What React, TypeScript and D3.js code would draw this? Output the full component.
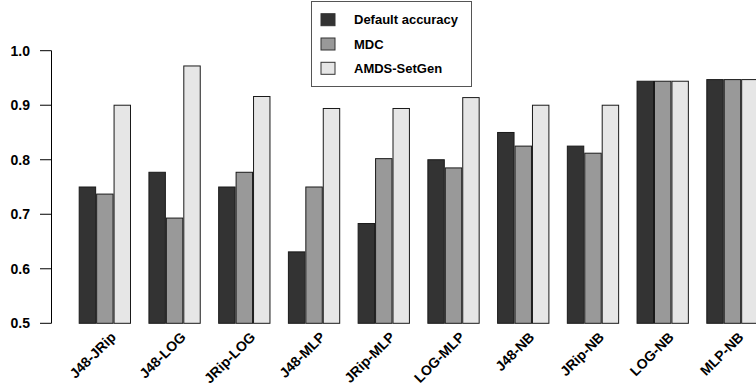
import React from 'react';
import * as d3 from 'd3';

const pairs = ['J48-JRip', 'J48-LOG', 'JRip-LOG', 'J48-MLP', 'JRip-MLP', 'LOG-MLP', 'J48-NB', 'JRip-NB', 'LOG-NB', 'MLP-NB'];
const seriesNames = ['Default accuracy', 'MDC', 'AMDS-SetGen'];
const defaultAcc = [0.75, 0.777, 0.75, 0.631, 0.683, 0.8, 0.85, 0.825, 0.944, 0.947];
const mdc = [0.737, 0.693, 0.777, 0.75, 0.802, 0.785, 0.825, 0.812, 0.944, 0.947];
const amds = [0.9, 0.972, 0.916, 0.894, 0.894, 0.914, 0.9, 0.9, 0.944, 0.947];
const yTicks = [0.5, 0.6, 0.7, 0.8, 0.9, 1.0];
const fills = ['#333333', '#999999', '#e6e6e6'];

const W = 756, H = 389;

export default function App() {
  const values = [defaultAcc, mdc, amds];

  const x0 = d3.scaleBand<string>()
    .domain(pairs)
    .range([78.7, 758.6])
    .paddingInner(0.25)
    .paddingOuter(0);

  const x1 = d3.scaleBand<number>()
    .domain([0, 1, 2])
    .range([0, x0.bandwidth()]);

  const y = d3.scaleLinear().domain([0.5, 1.0]).range([323.3, 50.7]);

  const font = '"Liberation Sans", Arial, sans-serif';

  return (
    <div style={{ position: 'absolute', left: 0, top: 0 }}>
      <svg width={W} height={H} style={{ display: 'block' }}>
        <rect width={W} height={H} fill="#fff" />

        {/* bars */}
        {pairs.map((p, i) => (
          <g key={p} transform={'translate(' + x0(p) + ',0)'}>
            {values.map((s, j) => (
              <rect
                key={j}
                x={(x1(j) as number) + 0.5}
                y={y(s[i])}
                width={x1.bandwidth() - 1}
                height={y(0.5) - y(s[i])}
                fill={fills[j]}
                stroke="#1a1a1a"
                strokeWidth={1}
              />
            ))}
          </g>
        ))}

        {/* y axis */}
        <g fontFamily={font} fontSize={14} fontWeight="bold">
          <line x1={51.5} x2={51.5} y1={y(1.0)} y2={y(0.5)} stroke="#000" />
          {yTicks.map(t => (
            <g key={t}>
              <line x1={40} x2={51.5} y1={y(t)} y2={y(t)} stroke="#000" />
              <text x={30} y={y(t)} dy="0.35em" textAnchor="end">{t.toFixed(1)}</text>
            </g>
          ))}
        </g>

        {/* x labels */}
        <g fontFamily={font} fontSize={14} fontWeight="bold">
          {pairs.map(p => {
            const cx = (x0(p) as number) + x0.bandwidth() / 2 + 12;
            return (
              <text key={p} transform={'translate(' + cx + ',338) rotate(-45)'} textAnchor="end">{p}</text>
            );
          })}
        </g>

        {/* legend */}
        <g fontFamily={font} fontSize={13} fontWeight="bold">
          <rect x={311.5} y={1.5} width={160} height={85} fill="#fff" stroke="#555" />
          {seriesNames.map((n, j) => (
            <g key={n} transform={'translate(0,' + (19.7 + j * 24.3) + ')'}>
              <rect x={321} y={-6} width={14} height={12} fill={fills[j]} stroke="#333" />
              <text x={354} y={0} dy="0.35em">{n}</text>
            </g>
          ))}
        </g>
      </svg>
    </div>
  );
}
